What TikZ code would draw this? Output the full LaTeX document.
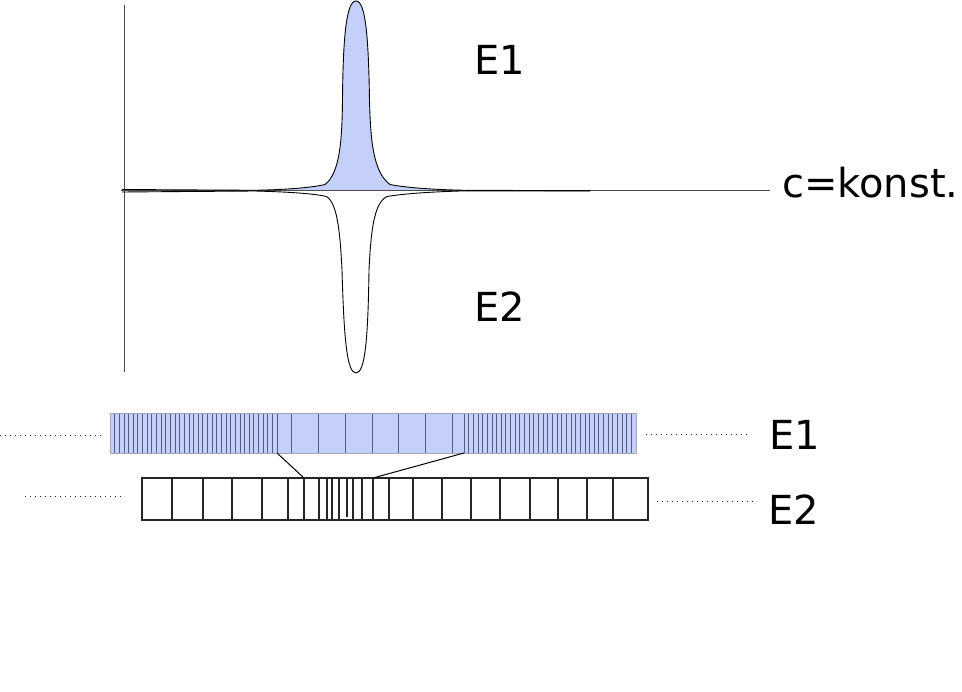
\documentclass[tikz,border=0pt]{standalone}
\usepackage{fontspec}
\setmainfont{DejaVu Sans}
\usepackage{xcolor}
\definecolor{peakblue}{RGB}{197,208,250}
\definecolor{gridblue}{RGB}{84,94,130}

\begin{document}
\begin{tikzpicture}[x=1pt, y=-1pt,
    txt/.style={inner sep=0pt, font=\fontsize{40}{48}\selectfont},
    axis/.style={draw=black!70, line width=0.9pt},
    curve/.style={draw=black, line width=0.9pt},
    cell/.style={draw=black!85, line width=1.4pt},
    fine/.style={draw=gridblue, line width=0.7pt},
    dots/.style={draw=black!85, line width=1.3pt, dash pattern=on 1.4pt off 3.6pt}]
    \useasboundingbox (0,0) rectangle (962,692);

    \def\upper{(122,189.5) -- (255,190.3) .. controls (290,189.5) and (312,187.5) .. (325,184.5)
        .. controls (340,173) and (342,140) .. (342.5,100) .. controls (343,40) and (346,1) .. (356,1)
        .. controls (366,1) and (368.5,40) .. (369.5,100) .. controls (370.5,140) and (373,172) .. (390,184.5)
        .. controls (405,187.5) and (430,189.5) .. (465,190.3) -- (590,190.7)}
    \def\lower{(122,192) -- (255,191) .. controls (290,192) and (313,193.5) .. (326.5,196.5)
        .. controls (337,203) and (340,230) .. (342,270) .. controls (344,340) and (347,373) .. (356,373)
        .. controls (365,373) and (368,340) .. (369,270) .. controls (371,230) and (374,203) .. (387,196.5)
        .. controls (405,193.5) and (430,192) .. (460,191) -- (590,190.9)}

    % graph
    \fill[peakblue] \upper -- cycle;
    \coordinate (ytop) at (124,5);
    \coordinate (ybot) at (124,372);
    \coordinate (xl) at (121,190.5);
    \coordinate (xr) at (770,190.5);
    \draw[axis] (ytop) -- (ybot);
    \draw[axis] (xl) -- (xr);
    \draw[curve] \upper;
    \draw[curve] \lower;

    \node[txt, anchor=base west] (konst) at (782,198) {c=konst.};
    \node[txt] (E1top) at (500,60) {E1};
    \node[txt] (E2top) at (500,306.5) {E2};

    % E1 bar
    \fill[peakblue] (110,413) rectangle (636,453);
    \foreach \i in {1,...,35}
        \draw[fine] ({110+\i*167/36},413) -- ++(0,40);
    \foreach \i in {1,...,36}
        \draw[fine] ({464+\i*172/37},413) -- ++(0,40);
    \foreach \x in {277,291,318,345,372,398,425,452,464}
        \draw[fine] (\x,413) -- (\x,453);
    \draw[draw=gridblue!55, line width=0.8pt] (110,413) rectangle (636,453);

    % E2 bar
    \draw[cell] (142,478) rectangle (648,520);
    \foreach \x in {172,203,232,262,288,304,319,327,332,339,353,362,373,389,413,442,471,500,530,558,587,613}
        \draw[cell] (\x,478) -- (\x,520);
    \draw[cell] (347,478) -- (347,517);

    % zoom lines
    \coordinate (zl1) at (277,453);
    \coordinate (zr1) at (464,453);
    \coordinate (zl2) at (304,478);
    \coordinate (zr2) at (373,478);
    \draw[line width=1pt] (zl1) -- (zl2);
    \draw[line width=1pt] (zr1) -- (zr2);

    \node[txt] (E1) at (794.5,435) {E1};
    \node[txt] (E2) at (793.5,510) {E2};

    \coordinate (d1a) at (0,435.7);
    \coordinate (d1b) at (103,435.7);
    \coordinate (d2a) at (25,496.7);
    \coordinate (d2b) at (125,496.7);
    \coordinate (d3a) at (646,434.3);
    \coordinate (d3b) at (747,434.3);
    \coordinate (d4a) at (657,501.7);
    \coordinate (d4b) at (757,501.7);
    \draw[dots] (d1a) -- (d1b);
    \draw[dots] (d2a) -- (d2b);
    \draw[dots] (d3a) -- (d3b);
    \draw[dots] (d4a) -- (d4b);
\end{tikzpicture}
\end{document}
